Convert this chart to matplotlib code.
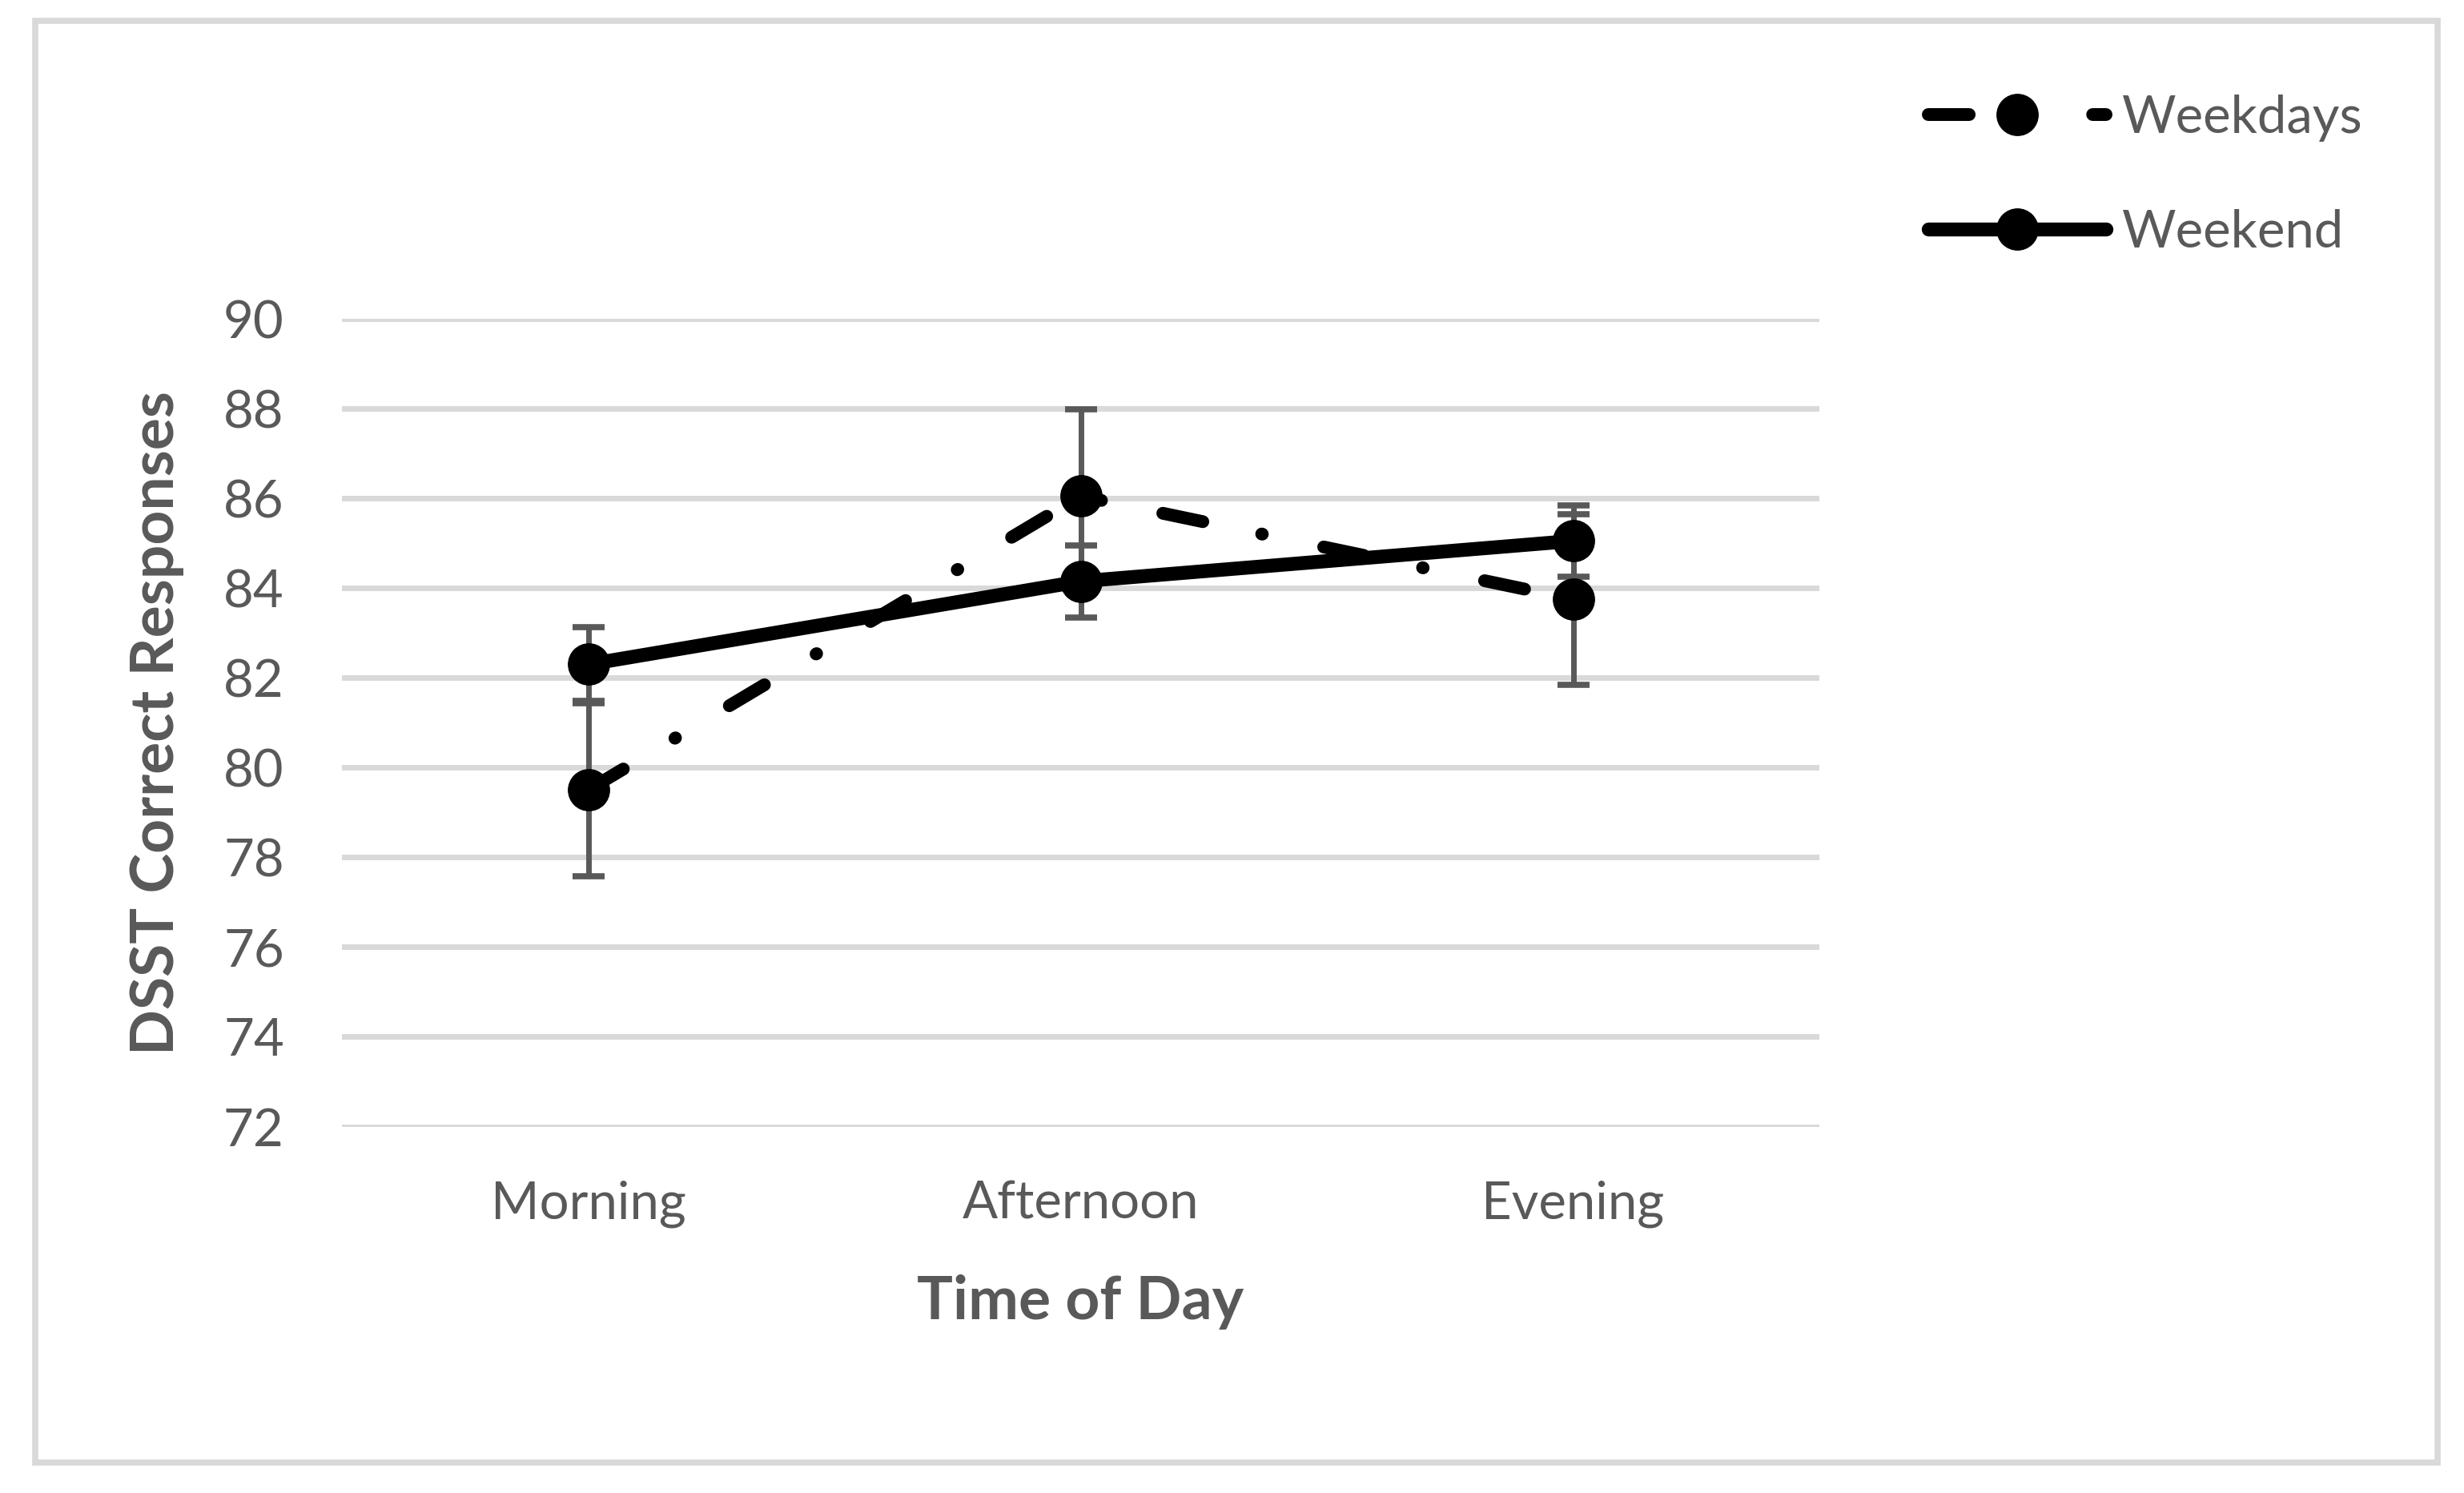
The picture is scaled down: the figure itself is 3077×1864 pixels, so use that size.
import matplotlib
matplotlib.use("Agg")
import matplotlib.pyplot as plt
from matplotlib.patches import Rectangle

categories = ["Morning", "Afternoon", "Evening"]
weekdays = [79.5, 86.05, 83.75]
weekdays_err = [1.93, 1.93, 1.9]
weekend = [82.3, 84.15, 85.05]
weekend_err = [0.82, 0.8, 0.8]
yticks = [72, 74, 76, 78, 80, 82, 84, 86, 88, 90]

W, H, DPI = 3077, 1864, 100
plt.rcParams['font.family'] = ['Lato', 'DejaVu Sans']
TXT = '#595959'

fig = plt.figure(figsize=(W / DPI, H / DPI), dpi=DPI)
fig.patch.set_facecolor('white')

# outer chart border
fig.patches.append(Rectangle((44 / W, 1 - 1826 / H), 3000 / W, 1800 / H,
                             transform=fig.transFigure, fill=False,
                             edgecolor='#d9d9d9', linewidth=5.5, zorder=0))

ax = fig.add_axes([427 / W, 1 - 1406.5 / H, (2272 - 427) / W, (1406.5 - 398) / H])
x = list(range(len(categories)))

ax.set_xlim(-0.5, len(categories) - 0.5)
ax.set_ylim(72, 90)
ax.set_yticks(yticks)
ax.set_xticks(x)
ax.set_xticklabels(categories)
ax.grid(axis='y', color='#d9d9d9', linewidth=5, zorder=0)
ax.set_axisbelow(True)
for s in ax.spines.values():
    s.set_visible(False)
ax.tick_params(axis='both', length=0, labelsize=47, labelcolor=TXT)
ax.tick_params(axis='y', pad=52)
ax.tick_params(axis='x', pad=48)

# error bars (beneath markers)
ax.errorbar(x, weekdays, yerr=weekdays_err, fmt='none', ecolor='#595959',
            elinewidth=5, capsize=14.5, capthick=5.5, zorder=2)
ax.errorbar(x, weekend, yerr=weekend_err, fmt='none', ecolor='#595959',
            elinewidth=5, capsize=14.5, capthick=5.5, zorder=2)

l1, = ax.plot(x, weekdays, color='black', linewidth=11.5, marker='o', markersize=37,
              dash_capstyle='round', label='Weekdays', zorder=3)
l1.set_dashes((3.2, 4.7, 0.05, 4.9))
l2, = ax.plot(x, weekend, color='black', linewidth=12.5, marker='o', markersize=37,
              solid_capstyle='round', label='Weekend', zorder=4)

ax.set_xlabel('Time of Day', fontsize=54, fontweight='bold', color=TXT, labelpad=42)
ax.set_ylabel('DSST Correct Responses', fontsize=54, fontweight='bold', color=TXT,
              labelpad=35)

leg = fig.legend(handles=[l1, l2], loc='upper left',
                 bbox_to_anchor=(2408 / W, 1 - 118 / H), frameon=False,
                 fontsize=47, handlelength=3.4, handletextpad=0.3,
                 labelspacing=1.28, borderpad=0, borderaxespad=0)
for t in leg.get_texts():
    t.set_color(TXT)

fig.savefig('out.png', dpi=DPI)
